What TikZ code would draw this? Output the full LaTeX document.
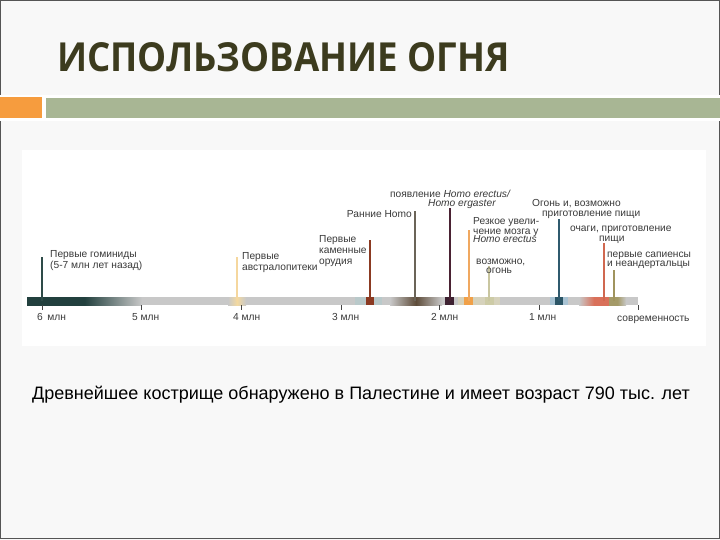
\documentclass[tikz,border=0pt]{standalone}
\usepackage{graphicx}
\usepackage{fontspec}
\setmainfont{Liberation Sans}
\newfontfamily\titlefont{Open Sans}
\definecolor{slidebg}{HTML}{F8F8F8}
\definecolor{framegray}{HTML}{555555}
\definecolor{orangebar}{HTML}{F69C3E}
\definecolor{greenbar}{HTML}{A8B694}
\definecolor{titlecol}{HTML}{3C3B1E}
\definecolor{txtgray}{HTML}{3A3A3A}
\definecolor{tickgray}{HTML}{444444}
\definecolor{bargray}{HTML}{C8C8C8}
\definecolor{tealdark}{HTML}{22403E}
\definecolor{austry}{HTML}{F3D9A0}
\definecolor{haloa}{HTML}{B9C9CA}
\definecolor{kamred}{HTML}{8B3A22}
\definecolor{brownseg}{HTML}{5E4C3A}
\definecolor{maroonseg}{HTML}{3E2232}
\definecolor{paleregion}{HTML}{D6D2BC}
\definecolor{orangeseg}{HTML}{F0A048}
\definecolor{paleseg}{HTML}{CDCBA6}
\definecolor{halob}{HTML}{A9C3D3}
\definecolor{ogonblue}{HTML}{2B5566}
\definecolor{salmonseg}{HTML}{D9705A}
\definecolor{oliveseg}{HTML}{A49A68}
\definecolor{gomcol}{HTML}{2E4B48}
\definecolor{auscol}{HTML}{F5D79E}
\definecolor{homocol}{HTML}{6B6458}
\definecolor{erecol}{HTML}{4A2233}
\definecolor{rezcol}{HTML}{F0A860}
\definecolor{vozcol}{HTML}{C9C6A0}
\definecolor{ogoncol}{HTML}{2F5A6E}
\definecolor{ochcol}{HTML}{D06850}
\definecolor{sapcol}{HTML}{A0945E}
\begin{document}
\begin{tikzpicture}[x=1pt,y=-1pt,
  lbl/.style={inner sep=0pt, anchor=base west, text=txtgray, font=\fontsize{10.2}{10}\selectfont},
  lblr/.style={lbl, anchor=base east},
  evline/.style={line width=2.4pt, line cap=butt},
  tickmark/.style={draw=tickgray, line width=0.8pt},
]
\useasboundingbox (0,0) rectangle (720,540);
\fill[slidebg] (0,0) rectangle (720,540);
\fill[white] (22,150) rectangle (706,346);
\draw[framegray, line width=1.2pt] (0.6,0.6) rectangle (719.4,538.4);
\fill[white] (-1,95) rectangle (721,121);
\fill[orangebar] (0,97) rectangle (42,118);
\fill[greenbar] (46,98) rectangle (720,118);
\node[inner sep=0pt, anchor=base west, text=titlecol, font=\titlefont\bfseries\fontsize{40}{40}\selectfont] (title) at (57,72) {\scalebox{0.915}[1]{ИСПОЛЬЗОВАНИЕ ОГНЯ}};

% time bar
\fill[bargray] (27,297) rectangle (638,305);
\shade[left color=tealdark, right color=bargray, middle color=tealdark] (27,297) rectangle (142,305);
\shade[left color=bargray, right color=bargray, middle color=austry] (228,297) rectangle (246,305);
\fill[haloa] (355,297) rectangle (382,305);
\fill[kamred] (366,297) rectangle (374,305);
\shade[left color=bargray, right color=bargray, middle color=brownseg] (390,297) rectangle (442,305);
\fill[maroonseg] (445,297) rectangle (454,305);
\fill[paleregion] (458,297) rectangle (500,305);
\fill[orangeseg] (464,297) rectangle (473,305);
\fill[paleseg] (485,297) rectangle (494,305);
\fill[halob] (550,297) rectangle (568,305);
\fill[ogonblue] (555,297) rectangle (563,305);
\shade[left color=bargray, right color=salmonseg, middle color=salmonseg] (579,297) rectangle (609,305);
\shade[left color=oliveseg, right color=bargray, middle color=oliveseg] (609,297) rectangle (626,305);

% ticks
\foreach \n/\x in {t6/42,t5/141,t4/241,t3/341,t2/439,t1/539,t0/638}{
  \coordinate (\n a) at (\x,305);
  \coordinate (\n b) at (\x,310);
  \draw[tickmark] (\n a) -- (\n b);
}
\node[lbl] (l6) at (37,320) {6\, млн};
\node[lbl] (l5) at (132,320) {5 млн};
\node[lbl] (l4) at (233,320) {4 млн};
\node[lbl] (l3) at (332,320) {3 млн};
\node[lbl] (l2) at (431,320) {2 млн};
\node[lbl] (l1) at (529,320) {1 млн};
\node[lbl] (l0) at (617,321) {современность};

% event lines
\foreach \n/\x/\t/\c/\w in {gom/42/257/gomcol/2.5, aus/237/257/auscol/2.2, kam/370/240/kamred/2.5, homo/415/211/homocol/1.3, ere/450/208/erecol/2.5, rez/469/230/rezcol/2.5, voz/489/266/vozcol/2.2, ogn/559/219/ogoncol/2.5, och/604/243/ochcol/2.5, sap/614/270/sapcol/2.0}{
  \coordinate (\n b) at (\x,301);
  \coordinate (\n t) at (\x,\t);
  \draw[evline, draw=\c, line width=\w pt] (\n b) -- (\n t);
}

% labels
\node[lbl] (gom1) at (50,258) {Первые гоминиды};
\node[lbl] (gom2) at (50,268) {(5-7 млн лет назад)};
\node[lbl] (aus1) at (242,259) {Первые};
\node[lbl] (aus2) at (242,270) {австралопитеки};
\node[lbl] (kam1) at (319,242) {Первые};
\node[lbl] (kam2) at (319,253) {каменные};
\node[lbl] (kam3) at (319,264) {орудия};
\node[lblr] (homo1) at (412,218) {Ранние Homo};
\node[lbl] (ere1) at (390,198) {появление \textit{Homo erectus/}};
\node[lbl] (ere2) at (428,207) {\textit{Homo ergaster}};
\node[lbl] (rez1) at (473,225) {Резкое увели-};
\node[lbl] (rez2) at (473,234) {чение мозга у};
\node[lbl] (rez3) at (473,243) {\textit{Homo erectus}};
\node[lbl] (voz1) at (476,264) {возможно,};
\node[lbl] (voz2) at (486,273) {огонь};
\node[lbl] (ogn1) at (532,207) {Огонь и, возможно};
\node[lbl] (ogn2) at (542,216) {приготовление пищи};
\node[lbl] (och1) at (570,232) {очаги, приготовление};
\node[lbl] (och2) at (599,241) {пищи};
\node[lbl] (sap1) at (607,257) {первые сапиенсы};
\node[lbl] (sap2) at (607,266) {и неандертальцы};

\node[inner sep=0pt, anchor=base west, text=black, font=\fontsize{18}{18}\selectfont] (note) at (32,399) {Древнейшее кострище обнаружено в Палестине и имеет возраст 790 тыс. лет};
\end{tikzpicture}
\end{document}
